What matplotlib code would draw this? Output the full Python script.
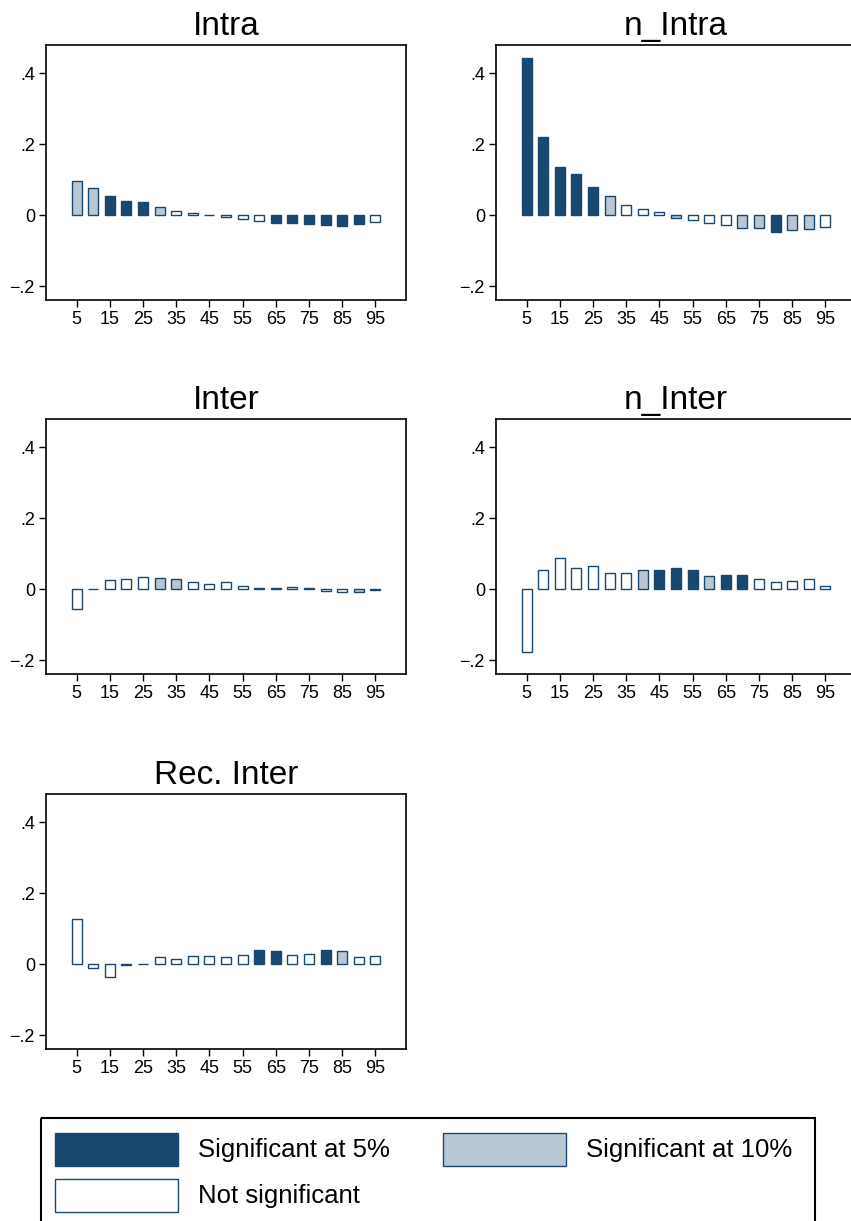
import matplotlib
matplotlib.use('Agg')
import matplotlib.pyplot as plt
from matplotlib.patches import Rectangle

plt.rcParams['font.family'] = ['Liberation Sans', 'DejaVu Sans']

# 分位点 5..95
quantiles = list(range(5, 100, 5))

# 系数估计值
intra = [0.096, 0.077, 0.054, 0.041, 0.038, 0.024, 0.011, 0.007, 0.001, -0.006,
         -0.011, -0.016, -0.023, -0.023, -0.026, -0.028, -0.029, -0.025, -0.019]
n_intra = [0.442, 0.222, 0.136, 0.115, 0.081, 0.054, 0.029, 0.017, 0.008, -0.008,
           -0.014, -0.023, -0.028, -0.037, -0.037, -0.046, -0.042, -0.040, -0.033]
inter = [-0.056, 0.002, 0.026, 0.029, 0.034, 0.032, 0.030, 0.021, 0.015, 0.019,
         0.009, 0.004, 0.003, 0.007, 0.004, -0.005, -0.009, -0.007, -0.001]
n_inter = [-0.177, 0.054, 0.089, 0.059, 0.066, 0.046, 0.047, 0.053, 0.055, 0.060,
           0.055, 0.037, 0.039, 0.039, 0.029, 0.021, 0.023, 0.030, 0.009]
rec_inter = [0.128, -0.011, -0.035, -0.001, 0.002, 0.019, 0.015, 0.024, 0.024, 0.019,
             0.027, 0.039, 0.036, 0.027, 0.029, 0.039, 0.036, 0.020, 0.023]

# 显著性: 5 = 5%, 10 = 10%, 0 = 不显著
sig_intra = [10, 10, 5, 5, 5, 10, 0, 0, 0, 0, 0, 0, 5, 5, 5, 5, 5, 5, 0]
sig_n_intra = [5, 5, 5, 5, 5, 10, 0, 0, 0, 10, 0, 0, 0, 10, 10, 5, 10, 10, 0]
sig_inter = [0, 0, 0, 0, 0, 10, 10, 0, 0, 0, 0, 0, 0, 0, 10, 0, 0, 10, 0]
sig_n_inter = [0, 0, 0, 0, 0, 0, 0, 10, 5, 5, 5, 10, 5, 5, 0, 0, 0, 0, 0]
sig_rec_inter = [0, 0, 0, 0, 0, 0, 0, 0, 0, 0, 0, 5, 5, 0, 0, 5, 10, 0, 0]

titles = ['Intra', 'n_Intra', 'Inter', 'n_Inter', 'Rec. Inter']
series = [intra, n_intra, inter, n_inter, rec_inter]
sigs = [sig_intra, sig_n_intra, sig_inter, sig_n_inter, sig_rec_inter]

NAVY = '#1a476f'
LIGHT = '#b9c6d3'
fill_map = {5: NAVY, 10: LIGHT, 0: 'white'}
legend_labels = ['Significant at 5%', 'Significant at 10%', 'Not significant']

W, H = 851, 1221
fig = plt.figure(figsize=(W / 100, H / 100), dpi=100)

# 每个子图的像素位置 (left, top)
lefts = [46, 496]
tops = [45, 419, 794]
ax_w, ax_h = 360, 255

for i, (title, vals, sig) in enumerate(zip(titles, series, sigs)):
    left = lefts[i % 2]
    top = tops[i // 2]
    ax = fig.add_axes([left / W, 1 - (top + ax_h) / H, ax_w / W, ax_h / H])
    ax.bar(quantiles, vals, width=3.0,
           color=[fill_map[s] for s in sig],
           edgecolor=NAVY, linewidth=1.0)
    ax.set_xlim(-4.2, 104.2)
    ax.set_ylim(-0.239, 0.480)
    ax.set_xticks(quantiles[::2])
    ax.set_yticks([-0.2, 0, 0.2, 0.4])
    ax.set_yticklabels(['\u2212.2', '0', '.2', '.4'])
    ax.tick_params(labelsize=13, length=5, width=1.0, pad=3)
    for sp in ax.spines.values():
        sp.set_linewidth(1.2)
    ax.set_title(title, fontsize=24, pad=7)

# 图例 (手工绘制)
lg = fig.add_axes([0, 0, 1, 1], facecolor='none')
lg.set_xlim(0, W)
lg.set_ylim(H, 0)
lg.axis('off')
lg.add_patch(Rectangle((41, 1118), 774, 110, fill=False, edgecolor='black', linewidth=1.5))
legend_pos = [(55, 1133), (443, 1133), (55, 1179)]
for (px, py), lab, s in zip(legend_pos, legend_labels, [5, 10, 0]):
    lg.add_patch(Rectangle((px, py), 123, 33, facecolor=fill_map[s], edgecolor=NAVY, linewidth=1.0))
    lg.text(px + 143, py + 17, lab, fontsize=18.5, va='center', ha='left')

fig.savefig('out.png', dpi=100)
